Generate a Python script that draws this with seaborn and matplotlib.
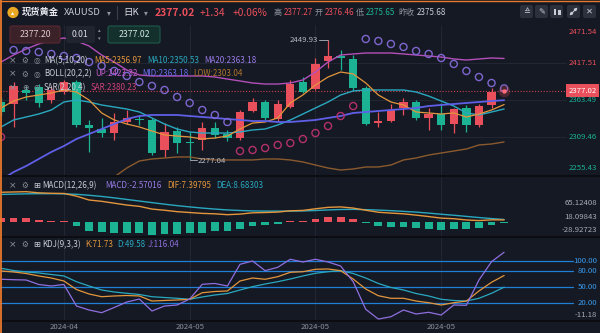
import numpy as np
import matplotlib
matplotlib.use("Agg")
import matplotlib.pyplot as plt
import matplotlib.transforms as mtrans
from matplotlib.patches import FancyBboxPatch, Rectangle, Circle
import seaborn as sns

# ---------------- data ----------------
opens = [2361.0, 2357.7, 2377.9, 2382.2, 2363.5, 2375.0, 2389.4, 2327.5, 2321.7, 2315.9,
         2331.8, 2336.1, 2334.7, 2291.5, 2318.8, 2303.0, 2305.9, 2323.2, 2314.5, 2308.7,
         2347.6, 2360.6, 2336.1, 2353.4, 2389.4, 2379.3, 2419.7, 2426.9, 2422.6, 2380.8,
         2330.4, 2333.2, 2351.9, 2360.6, 2337.6, 2343.3, 2328.9, 2351.9, 2327.5, 2356.3, 2376.46]
highs = [2367.8, 2389.4, 2383.7, 2386.6, 2383.7, 2392.3, 2392.3, 2334.7, 2337.6, 2344.8,
         2349.1, 2341.9, 2337.6, 2330.4, 2324.6, 2317.4, 2331.8, 2331.8, 2320.3, 2349.1,
         2366.4, 2363.5, 2363.5, 2392.3, 2396.6, 2424.0, 2449.93, 2435.5, 2428.3, 2383.7,
         2346.2, 2357.7, 2366.4, 2363.5, 2351.9, 2359.2, 2351.9, 2356.3, 2357.7, 2380.8, 2377.27]
lows = [2340.4, 2324.6, 2363.5, 2353.4, 2359.2, 2372.1, 2324.6, 2288.6, 2310.2, 2305.9,
        2328.9, 2327.5, 2284.3, 2281.4, 2287.1, 2277.04, 2291.5, 2308.7, 2304.4, 2305.9,
        2346.2, 2334.7, 2333.2, 2351.9, 2373.6, 2377.9, 2409.6, 2406.7, 2377.9, 2327.5,
        2324.6, 2331.8, 2341.9, 2334.7, 2320.3, 2320.3, 2315.9, 2317.4, 2324.6, 2351.9, 2375.65]
closes = [2346.2, 2383.7, 2373.6, 2359.2, 2377.9, 2389.4, 2327.5, 2323.2, 2315.9, 2331.8,
          2337.6, 2334.7, 2287.1, 2317.4, 2301.5, 2301.5, 2323.2, 2313.1, 2308.7, 2346.2,
          2360.6, 2337.6, 2357.7, 2386.6, 2375.0, 2415.4, 2426.9, 2424.0, 2380.8, 2328.9,
          2333.2, 2349.1, 2360.6, 2337.6, 2343.3, 2327.5, 2350.5, 2327.5, 2354.8, 2375.68, 2377.02]

ma5 = [2352.0, 2362.0, 2367.8, 2370.7, 2373.6, 2377.9, 2375.0, 2363.5, 2344.8, 2334.7,
       2328.9, 2324.6, 2318.8, 2313.1, 2311.6, 2310.2, 2307.3, 2308.7, 2311.6, 2321.7,
       2330.3, 2331.8, 2337.6, 2359.2, 2370.7, 2385.0, 2396.6, 2403.8, 2401.0, 2388.0,
       2370.7, 2360.6, 2356.3, 2346.2, 2344.8, 2343.3, 2344.8, 2339.0, 2343.3, 2349.1, 2356.97]
ma10 = [2324.6, 2334.7, 2339.0, 2343.3, 2349.1, 2360.6, 2363.5, 2360.6, 2356.3, 2353.4,
        2350.5, 2346.2, 2337.6, 2328.9, 2321.7, 2317.4, 2315.9, 2315.9, 2315.9, 2317.4,
        2320.3, 2321.7, 2327.5, 2334.7, 2343.3, 2352.0, 2360.6, 2370.7, 2376.5, 2377.9,
        2377.9, 2377.9, 2377.9, 2375.0, 2369.2, 2362.0, 2354.8, 2344.8, 2341.9, 2346.2, 2350.53]
ma20 = [2248.2, 2259.7, 2268.4, 2278.5, 2288.6, 2297.2, 2307.3, 2314.5, 2321.7, 2328.9,
        2336.1, 2340.4, 2341.9, 2341.9, 2341.9, 2340.4, 2339.0, 2337.6, 2336.1, 2334.7,
        2333.2, 2333.2, 2331.8, 2331.8, 2333.2, 2334.7, 2337.6, 2340.4, 2344.8, 2346.2,
        2347.6, 2349.1, 2350.5, 2352.0, 2354.8, 2356.3, 2357.7, 2359.2, 2360.6, 2362.0, 2363.18]
boll_up = [2418.2, 2428.3, 2437.0, 2444.2, 2449.9, 2452.8, 2448.5, 2441.3, 2428.3, 2418.2,
           2406.7, 2399.5, 2398.1, 2398.1, 2398.1, 2398.1, 2398.1, 2396.6, 2393.7, 2390.9,
           2388.0, 2386.5, 2386.5, 2388.0, 2392.3, 2403.8, 2418.2, 2428.3, 2429.8, 2431.2,
           2431.2, 2431.2, 2429.8, 2428.3, 2426.9, 2425.4, 2422.6, 2421.1, 2422.6, 2424.0, 2423.32]
boll_low = [2219.4, 2222.3, 2225.2, 2228.1, 2230.9, 2233.8, 2236.7, 2241.0, 2245.4, 2252.6,
            2265.5, 2275.6, 2278.5, 2279.9, 2281.4, 2281.4, 2278.5, 2277.1, 2277.1, 2277.1,
            2277.1, 2278.5, 2278.5, 2277.1, 2274.2, 2269.8, 2265.5, 2262.6, 2264.1, 2267.0,
            2267.0, 2269.8, 2277.1, 2279.9, 2284.2, 2287.1, 2290.0, 2292.9, 2298.7, 2300.1, 2303.04]
sar = [2310.2, 2435.5, 2434.1, 2432.6, 2429.8, 2426.9, 2424.0, 2418.2, 2412.5, 2405.3,
       2398.1, 2389.4, 2383.7, 2377.9, 2367.8, 2359.2, 2349.1, 2341.9, 2331.8, 2290.0,
       2291.5, 2294.3, 2298.7, 2301.5, 2307.3, 2315.9, 2326.0, 2340.4, 2354.8, 2451.4,
       2448.5, 2444.2, 2439.9, 2434.1, 2429.8, 2424.0, 2415.4, 2405.3, 2396.6, 2388.0, 2380.23]

dif = [103.5, 104.5, 105.5, 101.5, 100.0, 99.3, 90.0, 76.5, 72.0, 65.5,
       59.0, 54.5, 45.0, 41.0, 36.0, 33.0, 30.0, 28.5, 25.5, 27.5,
       32.0, 33.0, 34.5, 39.0, 40.3, 46.0, 51.0, 52.5, 48.5, 41.0,
       34.0, 31.0, 28.5, 24.0, 19.0, 13.5, 11.5, 7.0, 5.0, 7.5, 7.39795]
dea = [96.0, 97.0, 98.0, 98.5, 98.5, 98.0, 96.5, 93.0, 89.0, 84.0,
       78.5, 73.0, 67.5, 62.0, 57.0, 52.5, 48.5, 45.0, 42.0, 40.0,
       38.5, 38.0, 38.0, 38.0, 38.5, 40.0, 42.0, 43.5, 44.0, 43.0,
       41.5, 39.5, 37.0, 34.5, 31.0, 27.0, 23.5, 19.5, 15.5, 12.0, 8.68303]
macd_hist = [15.0, 15.0, 15.0, 6.0, 3.0, 2.5, -13.0, -33.0, -34.0, -37.0,
             -39.0, -37.0, -45.0, -42.0, -42.0, -39.0, -37.0, -33.0, -33.0, -25.0,
             -13.0, -10.0, -7.0, 2.0, 3.5, 12.0, 18.0, 18.0, 9.0, -4.0,
             -15.0, -17.0, -17.0, -21.0, -24.0, -27.0, -24.0, -25.0, -21.0, -9.0, -2.57016]

k_line = [80.4, 78.5, 75.6, 70.9, 67.0, 61.3, 45.1, 36.6, 31.4, 32.8,
          33.7, 32.8, 23.2, 24.2, 25.1, 26.5, 39.0, 41.3, 42.3, 61.3,
          67.0, 64.6, 69.5, 77.9, 79.0, 83.6, 84.2, 81.0, 65.1, 46.1,
          33.3, 28.4, 28.4, 23.2, 20.0, 15.6, 20.0, 23.2, 42.3, 58.9, 71.73]
d_line = [85.5, 81.3, 78.5, 76.6, 73.7, 70.9, 60.0, 51.8, 44.2, 40.4,
          37.9, 35.6, 31.4, 29.9, 28.4, 26.5, 30.9, 34.7, 37.5, 44.2,
          50.5, 55.6, 60.0, 65.1, 70.9, 76.0, 79.0, 81.0, 75.6, 67.0,
          56.6, 49.0, 44.2, 37.5, 32.8, 26.5, 24.2, 23.2, 28.4, 37.9, 49.58]
j_line = [64.6, 63.8, 63.2, 54.7, 51.8, 54.7, 13.7, 6.1, 1.0, 10.9,
          21.3, 27.0, 4.2, 13.7, 15.6, 27.0, 55.0, 56.6, 51.8, 93.1,
          99.4, 81.0, 87.4, 102.7, 97.5, 102.7, 97.5, 89.9, 60.0, 7.4,
          -11.18, -6.7, 6.1, -1.5, 1.7, -3.4, 15.6, 15.0, 63.2, 98.1, 116.04]

date_labels = ["2024-04", "2024-05", "2024-05", "2024-05"]
price_ticks = [2471.54, 2417.51, 2363.49, 2309.46, 2255.43]
macd_ticks = [65.12408, 18.09843, -28.92723]
kdj_levels = [100.00, 80.00, 50.00, 20.00]
kdj_min = -11.18
last_price = 2377.02

# ---------------- style ----------------
sns.set_theme(style="dark")
plt.rcParams['font.family'] = ['Noto Sans CJK SC', 'DejaVu Sans']
plt.rcParams['axes.unicode_minus'] = False

BG = '#151923'
GRID = '#222632'
RED = '#ea4f5c'
GREEN = '#1bb394'
ORANGE = '#e3963d'
TEAL = '#2aa8c0'
BLUE = '#5f5fe8'
PURPLE = '#8f6fe0'
MAGENTA = '#b34fb9'
BROWN = '#8a5a2e'
SAR_A = '#7d66cf'
SAR_B = '#b3306c'
KBLUE = '#1f80d6'
TXT = '#c9cdd6'
GREY = '#8d929e'

W, H = 600, 333
fig = plt.figure(figsize=(6, 3.33), dpi=100)
fig.patch.set_facecolor(BG)


def rect(x0, y0, x1, y1):
    return [x0 / W, 1 - y1 / H, (x1 - x0) / W, (y1 - y0) / H]


ax = fig.add_axes(rect(0, 25, 567, 175))
axm = fig.add_axes(rect(0, 177, 567, 236))
axk = fig.add_axes(rect(0, 237, 567, 320))
n = len(closes)
idx = np.arange(n)
grid_idx = [5, 15, 25, 35]

for a in (ax, axm, axk):
    a.set_facecolor(BG)
    a.set_xlim(-0.08, 45.0)
    for s in a.spines.values():
        s.set_visible(False)
    a.set_xticks([])
    a.set_yticks([])
    a.grid(False)
    for gx in grid_idx:
        a.axvline(gx, color=GRID, lw=0.8, zorder=0)

ax.set_ylim(price_ticks[-1], price_ticks[0])
axm.set_ylim(-48.7, 156.6)
axk.set_ylim(-12.95, 145.1)

for p in price_ticks[1:4]:
    ax.axhline(p, color=GRID, lw=0.8, zorder=0)

# ---------------- candles ----------------
o = np.array(opens); c = np.array(closes); h = np.array(highs); l = np.array(lows)
up = c >= o
cols = np.where(up, RED, GREEN)
ax.vlines(idx, l, h, colors=cols, lw=0.9, zorder=3)
body_b = np.minimum(o, c)
body_h = np.maximum(np.abs(c - o), 1.3)
ax.bar(idx, body_h, bottom=body_b, width=0.66, color=cols, linewidth=0, zorder=4)

# ---------------- overlays ----------------
sns.lineplot(x=idx, y=boll_up, ax=ax, color=MAGENTA, lw=1.0, zorder=5, legend=False)
sns.lineplot(x=idx, y=boll_low, ax=ax, color=BROWN, lw=1.0, zorder=5, legend=False)
sns.lineplot(x=idx, y=ma10, ax=ax, color=TEAL, lw=1.0, zorder=5, legend=False)
sns.lineplot(x=idx, y=ma5, ax=ax, color=ORANGE, lw=0.9, zorder=5, legend=False)
sns.lineplot(x=idx, y=ma20, ax=ax, color=BLUE, lw=1.3, zorder=5, legend=False)

sar_a = np.array(sar)
above = sar_a > c
ax.scatter(idx[above], sar_a[above], s=26, facecolors='none', edgecolors=SAR_A, linewidths=1.0, zorder=6)
ax.scatter(idx[~above], sar_a[~above], s=26, facecolors='none', edgecolors=SAR_B, linewidths=1.0, zorder=6)

ax.axhline(last_price, color='#c8414e', lw=0.8, ls=(0, (1, 1.6)), zorder=2)
ax.scatter([n - 1], [last_price], s=70, color=RED, alpha=0.25, linewidths=0, zorder=7)
ax.scatter([n - 1], [last_price], s=10, color='#ff6b76', linewidths=0, zorder=8)

hi_i = int(np.argmax(h)); lo_i = int(np.argmin(l))
ax.plot([hi_i - 0.75, hi_i], [h[hi_i], h[hi_i]], color='#9aa0ab', lw=0.7, zorder=6)
ax.text(hi_i - 0.8, h[hi_i], f"{h[hi_i]:.2f}", color='#b5bac4', fontsize=5.6, ha='right', va='center', zorder=6)
ax.plot([lo_i, lo_i + 0.55], [l[lo_i], l[lo_i]], color='#9aa0ab', lw=0.7, zorder=6)
ax.text(lo_i + 0.6, l[lo_i] - 1.5, f"{l[lo_i]:.2f}", color='#b5bac4', fontsize=5.6, ha='left', va='center', zorder=6)

# ---------------- MACD ----------------
hist = np.array(macd_hist)
axm.bar(idx, hist, width=0.62, color=np.where(hist >= 0, RED, GREEN), linewidth=0, zorder=3)
sns.lineplot(x=idx, y=dea, ax=axm, color=TEAL, lw=1.0, zorder=4, legend=False)
sns.lineplot(x=idx, y=dif, ax=axm, color=ORANGE, lw=1.0, zorder=4, legend=False)

# ---------------- KDJ ----------------
for lv in kdj_levels:
    axk.axhline(lv, xmin=0, xmax=573 / 567, color=KBLUE, lw=0.9, clip_on=False, zorder=1)
sns.lineplot(x=idx, y=d_line, ax=axk, color=TEAL, lw=0.9, zorder=4, legend=False)
sns.lineplot(x=idx, y=k_line, ax=axk, color=ORANGE, lw=0.9, zorder=4, legend=False)
sns.lineplot(x=idx, y=j_line, ax=axk, color=PURPLE, lw=0.9, zorder=4, legend=False)
axk.set_xticks(grid_idx)
axk.set_xticklabels(date_labels)
axk.tick_params(axis='x', length=0, pad=2.5, labelsize=5.6, labelcolor=GREY)
for a in (ax, axm, axk):
    a.set_xlabel(''); a.set_ylabel('')

# ---------------- overlay (pixel coordinates) ----------------
ov = fig.add_axes([0, 0, 1, 1], zorder=10)
ov.set_xlim(0, W); ov.set_ylim(H, 0)
ov.axis('off'); ov.patch.set_alpha(0)


def txt(x, y, s, color=TXT, size=6.0, ha='left', va='center', weight='normal', family=None):
    kw = {'family': family} if family else {}
    ov.text(x, y, s, color=color, fontsize=size, ha=ha, va=va, fontweight=weight, **kw)


# right axis labels
bt = mtrans.blended_transform_factory(ov.transData, ax.transData)
for p in price_ticks:
    col = RED if p > last_price else GREEN
    va = 'center'
    off = 0
    if p == max(price_ticks):
        va, off = 'top', -2.5
    elif p == min(price_ticks):
        va, off = 'bottom', 2.5
    ax.text(597, p, f"{p:.2f}", transform=bt + mtrans.ScaledTranslation(0, off / 100, fig.dpi_scale_trans),
            ha='right', va=va, color=col, fontsize=5.6, clip_on=False)
ax.text(597, last_price, f"{last_price:.2f}", transform=bt, ha='right', va='center', color='white',
        fontsize=5.6, clip_on=False, zorder=20,
        bbox=dict(boxstyle='square,pad=0.3', fc=RED, ec='none'))

btm = mtrans.blended_transform_factory(ov.transData, axm.transData)
for v in macd_ticks:
    axm.text(597, v, f"{v:.5f}", transform=btm, ha='right', va='center', color='#a7acb7', fontsize=5.6, clip_on=False)

btk = mtrans.blended_transform_factory(ov.transData, axk.transData)
for lv in kdj_levels:
    axk.text(597, lv, f"{lv:.2f}", transform=btk, ha='right', va='center', color='#3a9cf0', fontsize=5.6, clip_on=False)
axk.text(597, kdj_min, f"{kdj_min:.2f}", transform=btk, ha='right', va='bottom', color='#a7acb7', fontsize=5.6, clip_on=False)

# panel separators & border
for yy in (176, 236.5, 320.5):
    ov.plot([0, W], [yy, yy], color='#0a0c11', lw=1.3)
ov.plot([0.6, 0.6], [0, H], color='#e8782c', lw=1.3)
ov.plot([0, W], [0.5, 0.5], color='#e8782c', lw=1.0)

# header
ov.add_patch(Circle((13, 12.5), 5.6, fc='#e9a723', ec='none'))
txt(13, 12.8, '▴', color='white', size=4.5, ha='center', family='DejaVu Sans')
txt(22, 12.5, '现货黄金', color='#e6e8ee', size=6.7, weight='bold')
txt(64, 12.5, 'XAUUSD', color='#c8ccd6', size=6.8)
txt(107, 12.5, '▾', color=GREY, size=5.5, family='DejaVu Sans')
ov.plot([117, 117], [6, 19], color='#3a3f4b', lw=0.8)
txt(123, 12.5, '日K', color='#d8dbe2', size=6.8)
txt(144, 12.5, '▾', color=GREY, size=5.5, family='DejaVu Sans')
txt(155, 12.5, f"{closes[-1]:.2f}", color=RED, size=7.5, weight='bold')
txt(200, 12.5, '+1.34', color=RED, size=7.3)
txt(233, 12.5, '+0.06%', color=RED, size=7.3)
txt(274, 12.5, '高', color=GREY, size=5.8)
txt(284, 12.5, f"{highs[-1]:.2f}", color=RED, size=5.8)
txt(315, 12.5, '开', color=GREY, size=5.8)
txt(325, 12.5, f"{opens[-1]:.2f}", color=RED, size=5.8)
txt(356, 12.5, '低', color=GREY, size=5.8)
txt(366, 12.5, f"{lows[-1]:.2f}", color=GREEN, size=5.8)
txt(398, 12.5, '昨收', color=GREY, size=5.8)
txt(417, 12.5, f"{closes[-2]:.2f}", color='#c8ccd6', size=5.8)

# toolbar buttons
for bx in (520, 535, 550, 567, 583):
    ov.add_patch(FancyBboxPatch((bx, 5), 13, 13, boxstyle='round,pad=0,rounding_size=2', fc='#2b303c', ec='none'))
txt(526.5, 11.5, '≙', color=TXT, size=6, ha='center', family='DejaVu Sans')
txt(541.5, 11.5, '✎', color=TXT, size=6, ha='center', family='DejaVu Sans')
ov.add_patch(Rectangle((553.5, 8.5), 2.2, 6, fc=TXT, ec='none'))
ov.add_patch(Rectangle((558.3, 9.5), 2.2, 5, fc=TXT, ec='none'))
# expand icon (no installed font has the double diagonal arrow) drawn as a shape
ov.annotate('', xy=(577.5, 7.5), xytext=(569.5, 15.5),
            arrowprops=dict(arrowstyle='<|-|>', color=TXT, lw=0.8, mutation_scale=4, shrinkA=0, shrinkB=0))
txt(589.5, 11.5, '✕', color=TXT, size=6, ha='center', family='DejaVu Sans')

# input boxes
ov.add_patch(FancyBboxPatch((10, 26), 50, 17, boxstyle='round,pad=0,rounding_size=2', fc='#3b2128', ec='#5a2832', lw=0.8))
txt(35, 34.5, '2377.20', color='#dccbcd', size=6.3, ha='center')
ov.add_patch(FancyBboxPatch((66, 26), 29, 17, boxstyle='round,pad=0,rounding_size=2', fc='#20242f', ec='none'))
txt(80.5, 34.5, '0.01', color='#d8dbe2', size=6.3, ha='center')
txt(99, 30.5, '▴', color=GREY, size=3.8, ha='center', family='DejaVu Sans')
txt(99, 38.5, '▾', color=GREY, size=3.8, ha='center', family='DejaVu Sans')
ov.add_patch(FancyBboxPatch((108, 26), 52, 17, boxstyle='round,pad=0,rounding_size=2', fc='#14302c', ec='#1e5a4d', lw=0.8))
txt(134, 34.5, f"{closes[-1]:.2f}", color='#d0e6e0', size=6.3, ha='center')

# indicator legends
LS = 5.8


def icons(y, mid):
    txt(13, y, '×', color=GREY, size=6.5, ha='center', family='DejaVu Sans')
    txt(25, y, mid, color=GREY, size=5.5, ha='center', family='DejaVu Sans')


icons(60.7, '⚙'); txt(36.5, 60.7, '◎', color=GREY, size=5.5, ha='center', family='DejaVu Sans')
txt(44, 60.7, 'MA(5,10,20)', size=LS)
txt(94, 60.7, f"MA5:{ma5[-1]:.2f}", color=ORANGE, size=LS)
txt(147, 60.7, f"MA10:{ma10[-1]:.2f}", color=TEAL, size=LS)
txt(204, 60.7, f"MA20:{ma20[-1]:.2f}", color='#9a7ce8', size=LS)

icons(74, '⚙'); txt(36.5, 74, '◎', color=GREY, size=5.5, ha='center', family='DejaVu Sans')
txt(44, 74, 'BOLL(20,2,2)', size=LS)
txt(95, 74, f"UP:{boll_up[-1]:.2f}", color='#c25ccb', size=LS)
txt(142, 74, f"MID:{ma20[-1]:.2f}", color='#6d6df0', size=LS)
txt(193, 74, f"LOW:{boll_low[-1]:.2f}", color='#b0742f', size=LS)

icons(87.3, '⊕'); txt(36.5, 87.3, '◎', color=GREY, size=5.5, ha='center', family='DejaVu Sans')
txt(44, 87.3, 'SAR(2,20,4)', size=LS)
txt(91, 87.3, f"SAR:{sar[-1]:.2f}", color='#d0407a', size=LS)

icons(185.7, '⚙'); txt(37, 185.7, '⊞', color=TXT, size=6, ha='center', family='DejaVu Sans')
txt(42, 185.7, 'MACD(12,26,9)', size=LS)
txt(105, 185.7, f"MACD:{macd_hist[-1]:.5f}", color='#9a7ce8', size=LS)
txt(167, 185.7, f"DIF:{dif[-1]:.5f}", color=ORANGE, size=LS)
txt(216, 185.7, f"DEA:{dea[-1]:.5f}", color=TEAL, size=LS)

icons(244.3, '⚙'); txt(37, 244.3, '⊞', color=TXT, size=6, ha='center', family='DejaVu Sans')
txt(42, 244.3, 'KDJ(9,3,3)', size=LS)
txt(85, 244.3, f"K:{k_line[-1]:.2f}", color=ORANGE, size=LS)
txt(117, 244.3, f"D:{d_line[-1]:.2f}", color=TEAL, size=LS)
txt(148, 244.3, f"J:{j_line[-1]:.2f}", color=PURPLE, size=LS)

fig.savefig('out.png', dpi=100, facecolor=BG)
